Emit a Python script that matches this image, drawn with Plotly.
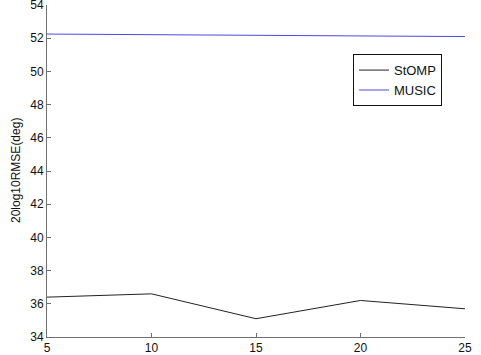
import plotly.graph_objects as go

snr = [5, 10, 15, 20, 25]
stomp = [36.4, 36.6, 35.1, 36.2, 35.7]
music = [52.25, 52.22, 52.18, 52.17, 52.1]
y_ticks = [34, 36, 38, 40, 42, 44, 46, 48, 50, 52, 54]
x_ticks = [5, 10, 15, 20, 25]
y_title = "20log10RMSE(deg)"

fig = go.Figure()
fig.add_trace(go.Scatter(x=snr, y=stomp, mode="lines", name="StOMP",
                         line=dict(color="#222222", width=1)))
fig.add_trace(go.Scatter(x=snr, y=music, mode="lines", name="MUSIC",
                         line=dict(color="#4a4ae0", width=1)))

fig.update_layout(
    width=481, height=355,
    margin=dict(l=47, r=16, t=5, b=18, autoexpand=False),
    paper_bgcolor="white", plot_bgcolor="white",
    font=dict(family="Liberation Sans, Arial, sans-serif", size=12, color="#111111"),
    showlegend=True,
    legend=dict(x=0.732, y=0.852, xanchor="left", yanchor="top",
                bordercolor="#111111", borderwidth=1, bgcolor="white",
                font=dict(size=13), tracegroupgap=0, itemwidth=30),
    xaxis=dict(range=[4.999, 25.001], tickvals=x_ticks, showgrid=False, zeroline=False,
               showline=True, linecolor="#707070", linewidth=1, automargin=False,
               ticks="inside", ticklen=4, tickcolor="#707070", mirror=False,
               ticklabeloverflow="allow"),
    yaxis=dict(range=[33.999, 54.001], tickvals=y_ticks, showgrid=False, zeroline=False,
               showline=True, linecolor="#707070", linewidth=1, automargin=False,
               ticks="inside", ticklen=4, tickcolor="#707070",
               ticklabeloverflow="allow"),
    annotations=[dict(text=y_title, xref="paper", yref="paper",
                      x=(16 - 47) / 418, y=0.5, xanchor="center", yanchor="middle",
                      textangle=-90, showarrow=False, font=dict(size=12))],
)
fig.write_html("out.html", config={"displayModeBar": False},
               post_script="document.body.style.margin='0';")
